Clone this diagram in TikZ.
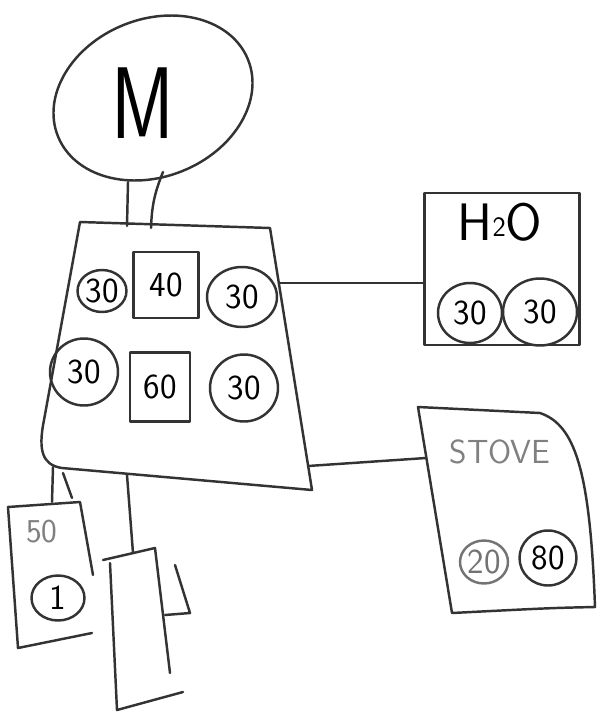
\documentclass[tikz,border=0pt]{standalone}
\usetikzlibrary{shapes.geometric}
\tikzset{
  sketch/.style={line width=1.4pt, draw=black!80, line join=round, line cap=round},
  numfont/.style={font=\sffamily\fontsize{20}{20}\selectfont},
  numcircle/.style={sketch, ellipse, inner sep=0pt, numfont},
  numbox/.style={sketch, rectangle, inner sep=0pt, numfont},
  pencil/.style={text=black!50, font=\sffamily\fontsize{19}{19}\selectfont},
  pencilcircle/.style={draw=black!55, line width=1.4pt, ellipse, inner sep=0pt, text=black!55, numfont},
}
\begin{document}
\begin{tikzpicture}[x=0.02cm, y=-0.02cm]
	\useasboundingbox (0,0) rectangle (600,717);
	% head
	\node[sketch, ellipse, minimum width=4.1cm, minimum height=3.15cm, rotate=22] (head) at (153,98) {};
	\node[xscale=0.75, font=\sffamily\fontsize{58}{58}\selectfont] (mlabel) at (143,103) {M};
	\coordinate (neckA) at (128,182);
	\coordinate (neckB) at (163,172);
	\coordinate (topA) at (127,226);
	\coordinate (topB) at (151,228);
	\draw[sketch] (neckA) -- (topA);
	\draw[sketch] (neckB) to[bend right=10] (topB);
	% body
	\draw[sketch] (80,222) -- (270,228) -- (312,490) -- (62,468)
		.. controls (42,465) and (38,450) .. (44,420) -- cycle;
	\node[numcircle, minimum width=0.98cm, minimum height=0.84cm] (c1) at (102,291) {30};
	\node[numbox, minimum width=1.3cm, minimum height=1.32cm] (s1) at (166,285) {40};
	\node[numcircle, minimum width=1.4cm, minimum height=1.2cm] (c2) at (242,297) {30};
	\node[numcircle, minimum width=1.36cm, minimum height=1.34cm] (c3) at (84,372) {30};
	\node[numbox, minimum width=1.2cm, minimum height=1.38cm] (s2) at (160,387) {60};
	\node[numcircle, minimum width=1.36cm, minimum height=1.34cm] (c4) at (244,388) {30};
	\coordinate (bodyR) at (279,283);
	\coordinate (bodyLR) at (308,466);
	\coordinate (armA) at (53,467);
	\coordinate (armB) at (63,473);
	\coordinate (legTop) at (127,475);
	% water
	\node[sketch, rectangle, minimum width=3.1cm, minimum height=3.04cm] (h2o) at (502,269) {};
	\node[font=\sffamily\fontsize{30}{30}\selectfont] (h2olabel) at (500,222) {H\raisebox{2pt}{\fontsize{16}{16}\selectfont 2}O};
	\node[numcircle, minimum width=1.28cm, minimum height=1.2cm] (h1) at (470,313) {30};
	\node[numcircle, minimum width=1.48cm, minimum height=1.34cm] (h2) at (540,312) {30};
	\draw[sketch] (bodyR) -- (bodyR -| h2o.west);
	% stove
	\coordinate (stoveL) at (426,458);
	\draw[sketch] (418,407) -- (540,413) .. controls (575,425) and (590,470) .. (595,607)
		.. controls (550,608) .. (452,613) -- cycle;
	\node[pencil] (stovelabel) at (500,452) {STOVE};
	\node[pencilcircle, minimum width=0.96cm, minimum height=0.86cm] (st1) at (484,562) {20};
	\node[numcircle, minimum width=1.14cm, minimum height=1.1cm] (st2) at (548,558) {80};
	\draw[sketch] (bodyLR) -- (stoveL);
	% arm
	\coordinate (armTopA) at (52,502);
	\coordinate (armTopB) at (72,498);
	\draw[sketch] (armA) -- (armTopA);
	\draw[sketch] (armB) -- (armTopB);
	\draw[sketch] (8,507) -- (80,502) -- (93,575);
	\draw[sketch] (8,507) -- (18,648) -- (92,633);
	\node[pencil] (armlabel) at (42,532) {50};
	\node[numcircle, minimum width=1.06cm, minimum height=0.9cm] (a1) at (58,598) {1};
	% leg
	\coordinate (legBox) at (133,553);
	\draw[sketch] (legTop) -- (legBox);
	\draw[sketch] (103,560) -- (155,548) -- (170,673);
	\draw[sketch] (110,563) -- (117,710) -- (183,692);
	\draw[sketch] (175,565) -- (190,613) -- (165,615);
\end{tikzpicture}
\end{document}
